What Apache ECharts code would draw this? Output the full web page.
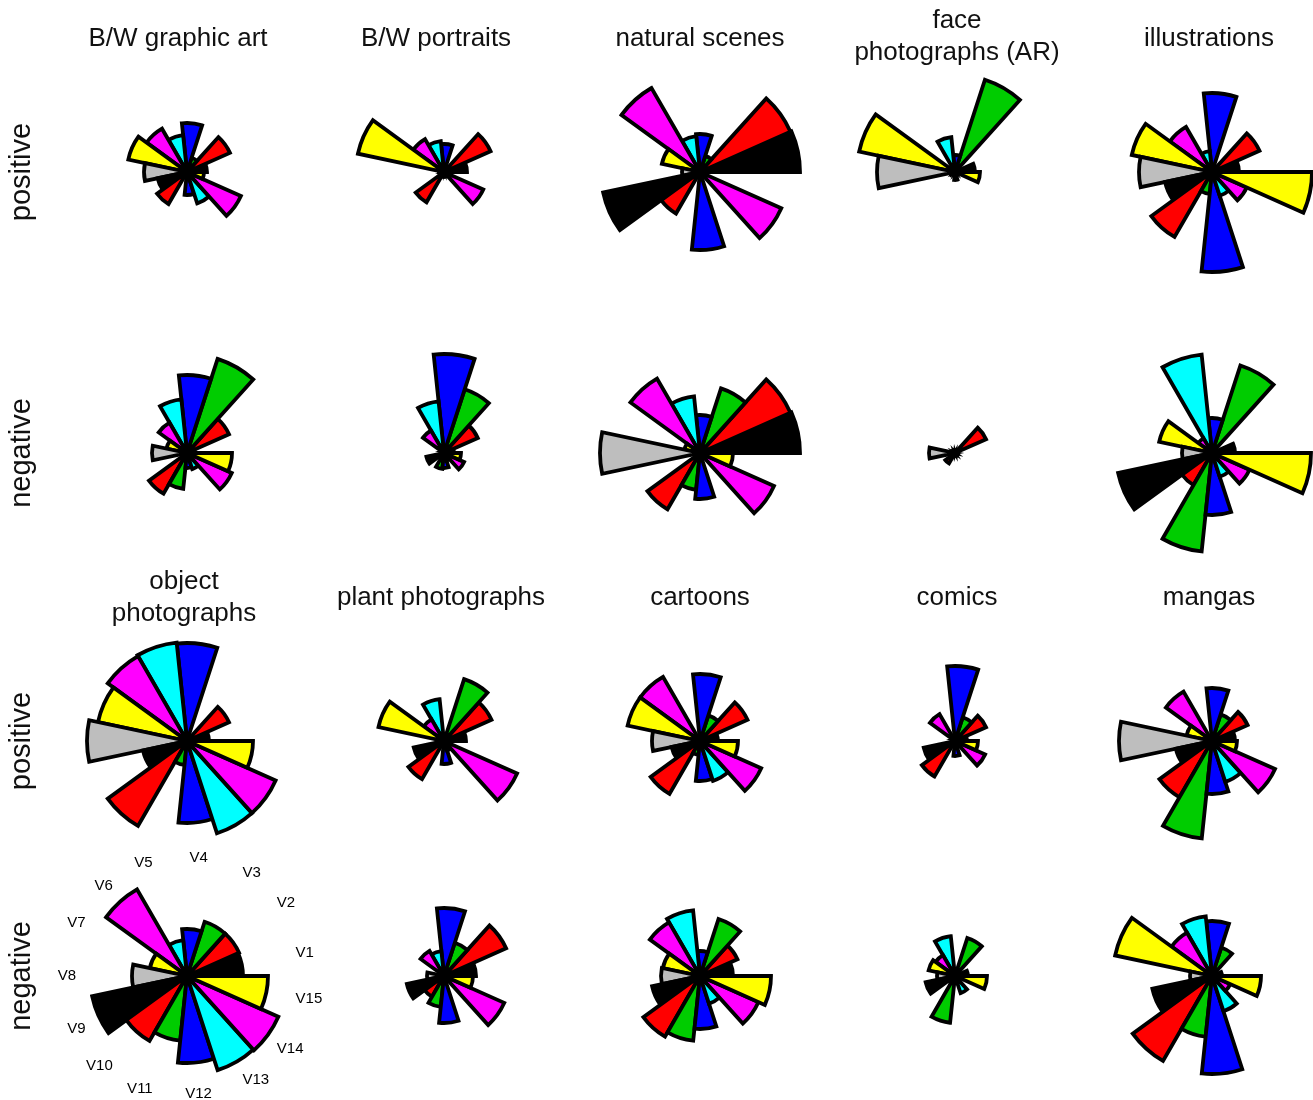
<!DOCTYPE html>
<html>
<head>
<meta charset="utf-8">
<script src="https://cdn.jsdelivr.net/npm/echarts@6/dist/echarts.min.js"></script>
<style>
  html, body { margin: 0; padding: 0; background: #ffffff; }
  #chart { width: 1313px; height: 1100px; }
</style>
</head>
<body>
<div id="chart"></div>
<script>
// Fifteen sectors, counter-clockwise from the east direction
const sectors = ['V1','V2','V3','V4','V5','V6','V7','V8','V9','V10','V11','V12','V13','V14','V15'];
const sectorColors = ['#000000','#ff0000','#00cc00','#0000ff','#00ffff','#ff00ff','#ffff00','#bebebe',
                      '#000000','#ff0000','#00cc00','#0000ff','#00ffff','#ff00ff','#ffff00'];

// Sector lengths per image category and sentiment
const bwGraphicArtPos   = [20, 47, 15, 49, 37, 50, 60, 43, 30, 37, 5, 23, 33, 59, 17];
const bwPortraitsPos    = [23, 51, 3, 28, 31, 38, 88, 3, 5, 35, 3, 5, 3, 43, 3];
const naturalScenesPos  = [100, 99, 17, 38, 36, 97, 39, 18, 99, 48, 5, 78, 5, 89, 5];
const facePhotosPos     = [20, 3, 97, 17, 35, 3, 98, 78, 5, 3, 3, 8, 3, 3, 25];
const illustrationsPos  = [27, 52, 3, 79, 21, 52, 82, 73, 48, 75, 22, 100, 25, 38, 100];

const bwGraphicArtNeg   = [8, 46, 99, 78, 54, 35, 21, 35, 5, 47, 36, 15, 17, 49, 45];
const bwPortraitsNeg    = [10, 37, 67, 99, 52, 26, 3, 3, 18, 5, 16, 15, 8, 22, 17];
const naturalScenesNeg  = [100, 99, 68, 38, 57, 86, 16, 100, 3, 65, 37, 46, 3, 81, 33];
const facePhotosNeg     = [3, 34, 3, 3, 3, 3, 3, 26, 5, 12, 3, 3, 3, 3, 3];
const illustrationsNeg  = [23, 5, 92, 35, 99, 17, 54, 30, 96, 37, 99, 62, 25, 41, 99];

const objectPhotosPos   = [22, 46, 3, 98, 99, 98, 91, 100, 45, 98, 24, 82, 97, 97, 66];
const plantPhotosPos    = [22, 52, 65, 3, 42, 25, 67, 3, 31, 44, 3, 23, 10, 80, 3];
const cartoonsPos       = [18, 52, 27, 67, 3, 74, 74, 48, 29, 61, 14, 40, 42, 67, 38];
const comicsPos         = [12, 34, 25, 75, 3, 31, 3, 3, 32, 41, 3, 15, 3, 33, 23];
const mangasPos         = [23, 39, 28, 53, 3, 57, 26, 93, 37, 65, 98, 53, 43, 69, 25];

const objectPhotosNeg   = [56, 57, 57, 47, 36, 100, 38, 55, 97, 75, 65, 87, 99, 100, 81];
const plantPhotosNeg    = [32, 68, 35, 68, 25, 29, 3, 17, 38, 24, 31, 47, 5, 66, 29];
const cartoonsNeg       = [33, 41, 60, 25, 66, 62, 38, 39, 49, 70, 65, 53, 29, 64, 71];
const comicsNeg         = [13, 5, 40, 5, 40, 24, 27, 18, 30, 8, 47, 5, 18, 5, 32];
const mangasNeg         = [10, 3, 30, 55, 60, 50, 99, 22, 61, 98, 61, 98, 37, 20, 49];

const topTitles    = ['B/W graphic art', 'B/W portraits', 'natural scenes', 'face\nphotographs (AR)', 'illustrations'];
const bottomTitles = ['object\nphotographs', 'plant photographs', 'cartoons', 'comics', 'mangas'];
const rowNames     = ['positive', 'negative', 'positive', 'negative'];

// Grid of panels: [values, column, row]
const panels = [
  [bwGraphicArtPos, 0, 0], [bwPortraitsPos, 1, 0], [naturalScenesPos, 2, 0], [facePhotosPos, 3, 0], [illustrationsPos, 4, 0],
  [bwGraphicArtNeg, 0, 1], [bwPortraitsNeg, 1, 1], [naturalScenesNeg, 2, 1], [facePhotosNeg, 3, 1], [illustrationsNeg, 4, 1],
  [objectPhotosPos, 0, 2], [plantPhotosPos, 1, 2], [cartoonsPos, 2, 2], [comicsPos, 3, 2], [mangasPos, 4, 2],
  [objectPhotosNeg, 0, 3], [plantPhotosNeg, 1, 3], [cartoonsNeg, 2, 3], [comicsNeg, 3, 3], [mangasNeg, 4, 3]
];
const labelledPanel = 15; // the panel that carries the sector names

// Layout
const colX = [187, 444, 700, 955, 1212];
const rowY = [172, 453, 741, 976];
const topTitleX = [178, 436, 700, 957, 1209];
const bottomTitleX = [184, 441, 700, 957, 1209];
const R = 100;
const FONT = '"Liberation Sans", Arial, Helvetica, sans-serif';

const polar = [], angleAxis = [], radiusAxis = [], series = [];
panels.forEach(([values, c, r], i) => {
  polar.push({ center: [colX[c], rowY[r]], radius: [0, R] });
  angleAxis.push({
    polarIndex: i,
    type: 'category',
    data: sectors,
    startAngle: 0,
    clockwise: false,
    boundaryGap: true,
    axisLine: { show: false },
    axisTick: { show: false },
    splitLine: { show: false },
    axisLabel: {
      show: i === labelledPanel,
      margin: 11,
      fontSize: 15,
      fontFamily: FONT,
      color: '#000000'
    }
  });
  radiusAxis.push({
    polarIndex: i,
    type: 'value',
    min: 0,
    max: 100,
    axisLine: { show: false },
    axisTick: { show: false },
    axisLabel: { show: false },
    splitLine: { show: false }
  });
  series.push({
    type: 'bar',
    coordinateSystem: 'polar',
    polarIndex: i,
    barCategoryGap: '0%',
    silent: true,
    itemStyle: { borderColor: '#000000', borderWidth: 3.8, borderJoin: 'miter' },
    data: values.map((v, k) => ({ value: v, itemStyle: { color: sectorColors[k] } }))
  });
});

const graphic = [];
topTitles.forEach((t, c) => {
  graphic.push({ type: 'text', x: topTitleX[c], y: c === 3 ? 37 : 39,
    style: { text: t, font: '26px ' + FONT, fill: '#111111', align: 'center', verticalAlign: 'middle', lineHeight: 32 } });
});
bottomTitles.forEach((t, c) => {
  graphic.push({ type: 'text', x: bottomTitleX[c], y: 598,
    style: { text: t, font: '26px ' + FONT, fill: '#111111', align: 'center', verticalAlign: 'middle', lineHeight: 32 } });
});
rowNames.forEach((t, r) => {
  graphic.push({ type: 'text', x: 22, y: rowY[r], rotation: Math.PI / 2,
    style: { text: t, font: '29px ' + FONT, fill: '#111111', align: 'center', verticalAlign: 'middle' } });
});

const chart = echarts.init(document.getElementById('chart'), null, { renderer: 'canvas' });
chart.setOption({
  backgroundColor: '#ffffff',
  animation: false,
  polar, angleAxis, radiusAxis, series, graphic
});
</script>
</body>
</html>
